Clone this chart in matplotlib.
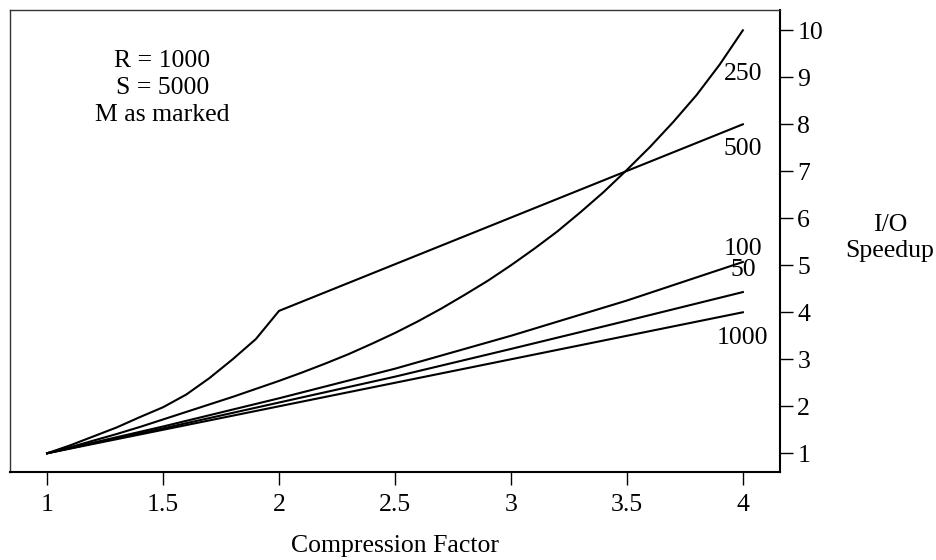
import matplotlib
matplotlib.use("Agg")
import matplotlib.pyplot as plt

plt.rcParams["font.family"] = ["Liberation Serif", "DejaVu Serif"]

# ── Data ──────────────────────────────────────────────────────────────────────
x_250 = [1.0, 1.1, 1.2, 1.3, 1.4, 1.5, 1.6, 1.7, 1.8, 1.9, 2.0,
         2.1, 2.2, 2.3, 2.4, 2.5, 2.6, 2.7, 2.8, 2.9, 3.0,
         3.1, 3.2, 3.3, 3.4, 3.5, 3.6, 3.7, 3.8, 3.9, 4.0]
y_250 = [1.0, 1.13, 1.27, 1.41, 1.56, 1.72, 1.88, 2.04, 2.2, 2.37, 2.54,
         2.72, 2.91, 3.11, 3.33, 3.56, 3.81, 4.08, 4.37, 4.67, 5.0,
         5.35, 5.72, 6.13, 6.56, 7.03, 7.52, 8.05, 8.62, 9.27, 10.0]

x_500 = [1.0, 1.1, 1.2, 1.3, 1.4, 1.5, 1.6, 1.7, 1.8, 1.9, 2.0, 4.0]
y_500 = [1.0, 1.17, 1.36, 1.55, 1.77, 1.98, 2.25, 2.6, 3.0, 3.43, 4.03, 8.0]

x_100 = [1.0, 1.5, 2.0, 2.5, 3.0, 3.5, 4.0]
y_100 = [1.0, 1.57, 2.17, 2.8, 3.5, 4.25, 5.07]

x_50 = [1.0, 1.5, 2.0, 2.5, 3.0, 3.5, 4.0]
y_50 = [1.0, 1.53, 2.08, 2.63, 3.22, 3.82, 4.43]

x_1000 = [1.0, 2.0, 3.0, 4.0]
y_1000 = [1.0, 2.0, 3.0, 4.0]

series = [
    (x_250, y_250, "250", (4.0, 9.06)),
    (x_500, y_500, "500", (4.0, 7.48)),
    (x_100, y_100, "100", (4.0, 5.35)),
    (x_50, y_50, "50", (4.0, 4.9)),
    (x_1000, y_1000, "1000", (4.0, 3.45)),
]

x_ticks = [1, 1.5, 2, 2.5, 3, 3.5, 4]
x_ticklabels = ["1", "1.5", "2", "2.5", "3", "3.5", "4"]
y_ticks = list(range(1, 11))

FS = 18.5

# ── Plot ──────────────────────────────────────────────────────────────────────
fig = plt.figure(figsize=(9.36, 5.6), dpi=100)
ax = fig.add_axes([0.0107, 0.157, 0.8226, 0.825])

for xs, ys, lab, (lx, ly) in series:
    ax.plot(xs, ys, color="black", lw=1.5, solid_joinstyle="miter")
    ax.text(lx, ly, lab, ha="center", va="center", fontsize=FS)

ax.text(1.496, 8.77, "R = 1000\nS = 5000\nM as marked", ha="center", va="center",
        fontsize=FS, linespacing=1.28)

ax.set_xlim(0.84, 4.16)
ax.set_ylim(0.6, 10.43)

ax.set_xticks(x_ticks)
ax.set_xticklabels(x_ticklabels)
ax.set_yticks(y_ticks)
ax.yaxis.tick_right()
ax.tick_params(axis="x", direction="out", length=9.5, width=1, pad=6, labelsize=FS)
ax.tick_params(axis="y", direction="out", length=9.5, width=1, pad=3, labelsize=FS,
               left=False, right=True)

for side in ["left", "top"]:
    ax.spines[side].set_linewidth(1.0)
    ax.spines[side].set_color("#333333")
for side in ["bottom", "right"]:
    ax.spines[side].set_linewidth(1.5)
    ax.spines[side].set_color("black")

ax.set_xlabel("Compression Factor", fontsize=FS, labelpad=14)
fig.text(890 / 936, 1 - 238 / 560, "I/O\nSpeedup", ha="center", va="center",
         fontsize=FS, linespacing=1.28)

fig.savefig("out.png", dpi=100)
